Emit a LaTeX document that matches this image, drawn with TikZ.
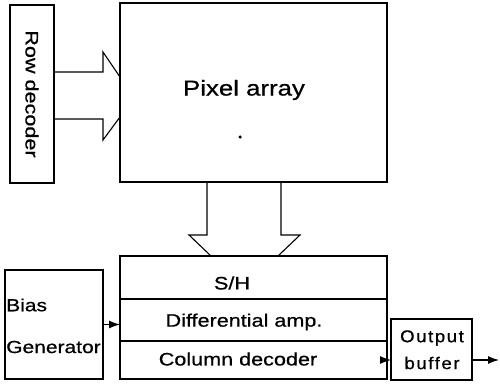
\documentclass[tikz,border=0pt]{standalone}
\usepackage{fontspec}
\setmainfont{Liberation Sans}[FakeStretch=1.2, FakeBold=0.7]
\newfontfamily\spacedfont{Liberation Sans}[LetterSpace=9, FakeStretch=1.1, FakeBold=0.7]
\usetikzlibrary{arrows.meta}
\begin{document}
\begin{tikzpicture}[x=1pt,y=-1pt,
  box/.style={draw, line width=1.7pt, rectangle, anchor=north west, inner sep=0pt, outer sep=0pt},
  blk/.style={line width=1.1pt, line join=miter},
  thin/.style={line width=1.1pt, -{Latex[length=11pt,width=8pt]}},
  txt/.style={inner sep=0pt, font=\fontsize{18}{20}\selectfont}]
\useasboundingbox (0,0) rectangle (500,385);
% boxes
\node[box, minimum width=44pt, minimum height=178pt] (row) at (10,5) {};
\node[box, minimum width=267pt, minimum height=179pt] (pix) at (120,3) {};
\node[box, minimum width=267pt, minimum height=43pt] (sh) at (120,256) {};
\node[box, minimum width=267pt, minimum height=42pt] (diff) at (120,299) {};
\node[box, minimum width=267pt, minimum height=38pt] (coldec) at (120,341) {};
\node[box, minimum width=98pt, minimum height=109pt] (bias) at (5,270) {};
\node[box, minimum width=81pt, minimum height=61pt] (out) at (391,319) {};
% texts
\node[txt, rotate=-90] (rowt) at (row.center) {Row decoder};
\node[txt, font=\fontsize{21.5}{24}\selectfont] (pixt) at (244,90) {Pixel array};
\node[circle, fill, inner sep=0pt, minimum size=3.5pt] (dot) at (240,137) {};
\node[txt] (sht) at (232,283) {S/H};
\node[txt] (difft) at (244,322) {Differential amp.};
\node[txt] (colt) at (238,359) {Column decoder};
\node[txt, anchor=west, font=\fontsize{17.5}{20}\selectfont] (biast) at (6,305) {Bias};
\node[txt, anchor=west, font=\fontsize{17.5}{20}\selectfont] (gent) at (6,347) {Generator};
\node[inner sep=0pt, font=\spacedfont\fontsize{17}{18}\selectfont] (outt1) at (432,338) {Output};
\node[inner sep=0pt, font=\spacedfont\fontsize{17}{18}\selectfont] (outt2) at (432,363) {buffer};
% block arrow row decoder -> pixel array
\draw[blk] (54,72) -- (103,72) -- (103,52) -- (120,77);
\draw[blk] (120,117) -- (103,140) -- (103,119) -- (54,119);
% block arrow pixel array -> S/H
\draw[blk] (207,182) -- (207,235) -- (189,235) -- (211,256);
\draw[blk] (278,256) -- (300,235) -- (281,235) -- (281,182);
% thin arrows
\draw[thin] (bias.east) -- (bias.east -| diff.west);
\draw[thin] (coldec.east) -- (coldec.east -| out.west);
\coordinate (end) at (499,360);
\draw[thin] (out.east |- coldec.east) -- (end);
\end{tikzpicture}
\end{document}
